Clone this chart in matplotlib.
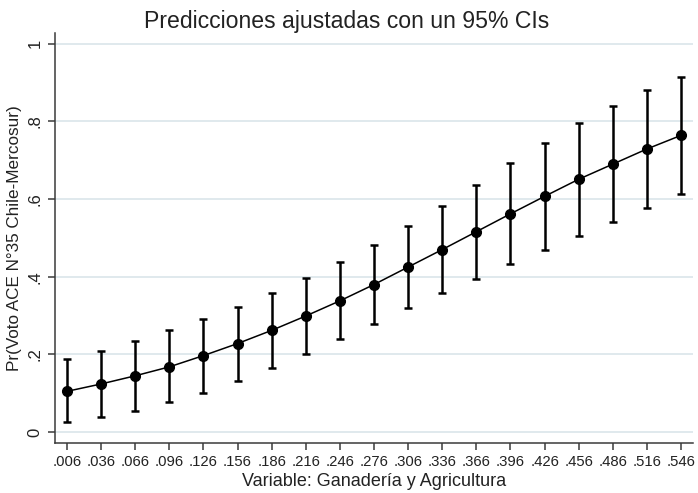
import numpy as np
import matplotlib.pyplot as plt

plt.rcParams['font.family'] = ['Liberation Sans', 'DejaVu Sans']

# valores de la variable (ganaderia y agricultura)
x_vals = [.006, .036, .066, .096, .126, .156, .186, .216, .246, .276,
          .306, .336, .366, .396, .426, .456, .486, .516, .546]
x_labels = ['.006', '.036', '.066', '.096', '.126', '.156', '.186', '.216', '.246', '.276',
            '.306', '.336', '.366', '.396', '.426', '.456', '.486', '.516', '.546']
# prediccion y CI 95%
pred = [0.105, 0.124, 0.145, 0.168, 0.197, 0.228, 0.262, 0.299, 0.338, 0.380,
        0.425, 0.470, 0.516, 0.562, 0.607, 0.651, 0.690, 0.729, 0.764]
ci_low = [0.025, 0.038, 0.055, 0.077, 0.101, 0.131, 0.164, 0.200, 0.239, 0.279,
          0.319, 0.358, 0.395, 0.432, 0.469, 0.505, 0.540, 0.577, 0.612]
ci_high = [0.187, 0.210, 0.235, 0.262, 0.292, 0.323, 0.358, 0.396, 0.437, 0.481,
           0.530, 0.582, 0.637, 0.692, 0.745, 0.796, 0.840, 0.880, 0.915]
y_ticks = [0, .2, .4, .6, .8, 1]
y_labels = ['0', '.2', '.4', '.6', '.8', '1']

fig = plt.figure(figsize=(6.98, 4.93), dpi=100)
ax = fig.add_axes([0.0788, 0.1014, 0.914, 0.832])

x = np.array(x_vals)
y = np.array(pred)
err = [y - np.array(ci_low), np.array(ci_high) - y]

ax.errorbar(x, y, yerr=err, fmt='none', ecolor='black', elinewidth=1.8,
            capsize=3, capthick=1.8, zorder=3)
ax.plot(x, y, color='black', linewidth=1.1, marker='o', markersize=7, zorder=4)

ax.set_xlim(-0.0045, 0.5565)
ax.set_ylim(-0.028, 1.028)
ax.set_xticks(x_vals)
ax.set_xticklabels(x_labels, fontsize=10.7)
ax.set_yticks(y_ticks)
ax.set_yticklabels(y_labels, fontsize=12, rotation=90, va='center')

ax.grid(axis='y', color='#dde7ec', linewidth=1.3)
ax.set_axisbelow(True)
for s in ['top', 'right']:
    ax.spines[s].set_visible(False)
for s in ['left', 'bottom']:
    ax.spines[s].set_color('#3a3a3a')
    ax.spines[s].set_linewidth(1.1)
ax.tick_params(colors='#3a3a3a', length=5, width=1.1, labelcolor='#222222')
ax.tick_params(axis='y', pad=4)

fig.suptitle('Predicciones ajustadas con un 95% CIs', fontsize=16.6, color='#222222',
             x=0.497, y=0.979, va='top')
ax.set_xlabel('Variable: Ganadería y Agricultura', fontsize=13, color='#222222', labelpad=3)
ax.set_ylabel('Pr(Voto ACE N°35 Chile-Mercosur)', fontsize=12.3, color='#222222', labelpad=4)

fig.savefig('out.png', dpi=100)
